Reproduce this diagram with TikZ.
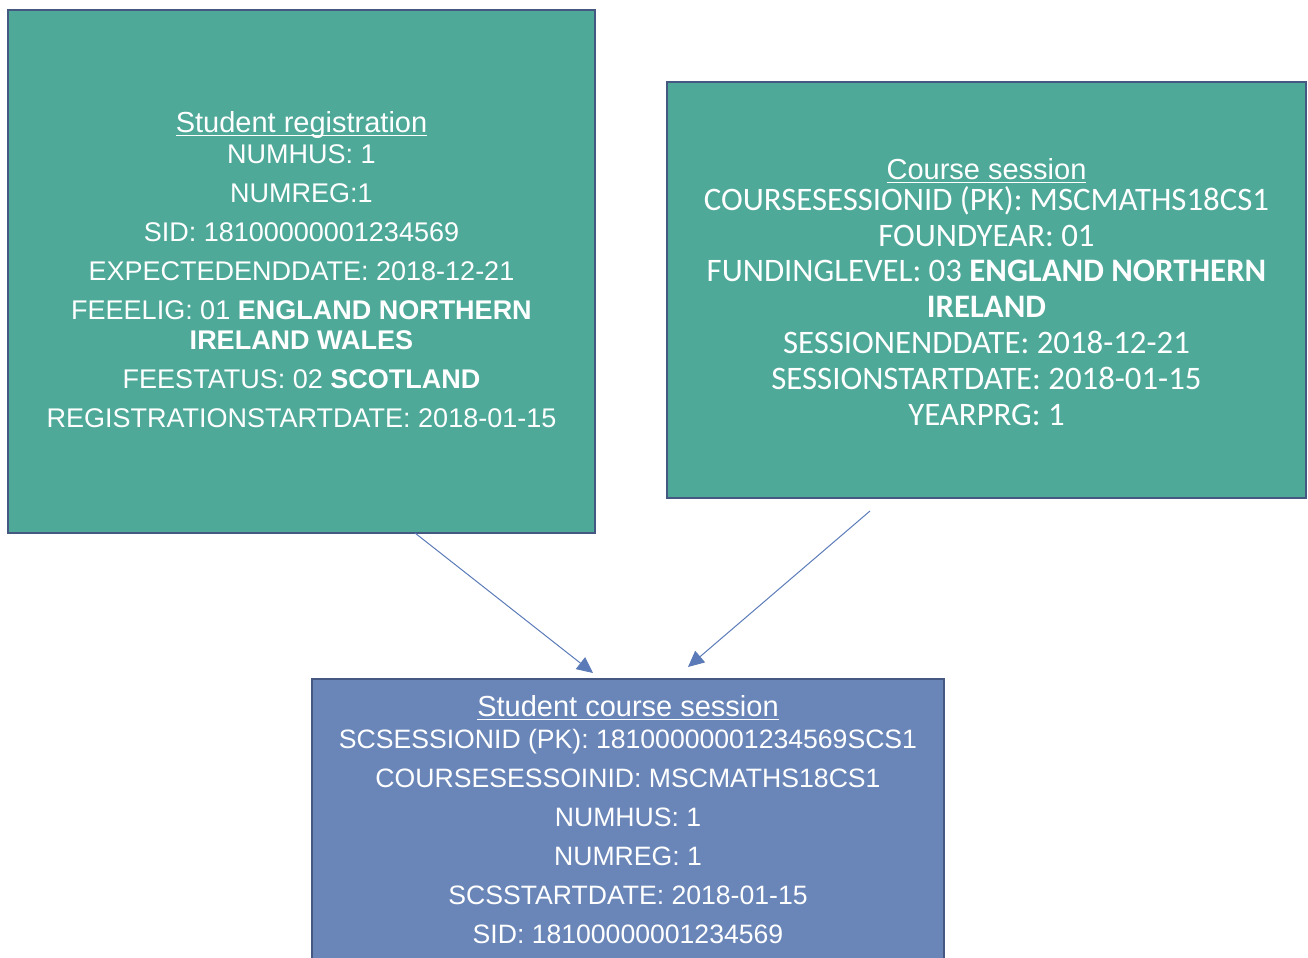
\documentclass[tikz,border=0pt]{standalone}
\usepackage{fontspec}
\setmainfont{Liberation Sans}
\newfontfamily\calibri{Carlito}
\usetikzlibrary{arrows.meta}
\definecolor{tealfill}{RGB}{78,169,153}
\definecolor{bluefill}{RGB}{106,134,184}
\definecolor{boxline}{RGB}{68,88,130}
\definecolor{linkline}{RGB}{90,122,184}
\newcommand{\boxtitle}[1]{{\fontsize{14.5}{15}\selectfont\underline{\vphantom{S}\smash{#1}}}}

\begin{document}
\begin{tikzpicture}[x=0.5pt,y=-0.5pt,
  entbox/.style={draw=boxline,line width=1pt,text=white,align=center,inner sep=0pt},
  link/.style={draw=linkline,line width=0.5pt,-{Triangle[length=8pt,width=7.5pt]}}]
\useasboundingbox (0,0) rectangle (1308,958);
% student registration
\node[entbox,fill=tealfill,minimum width=293.5pt,minimum height=261.5pt,
  text depth=2pt,font=\fontsize{13.5}{15}\selectfont] (reg) at (301.5,271.5)
  {\boxtitle{Student registration}\\[0.5pt]
   NUMHUS: 1\\[4.5pt]
   NUMREG:1\\[4.5pt]
   SID: 18100000001234569\\[4.5pt]
   EXPECTEDENDDATE: 2018-12-21\\[4.5pt]
   FEEELIG: 01 \textbf{ENGLAND NORTHERN}\\
   \textbf{IRELAND WALES}\\[4.5pt]
   FEESTATUS: 02 \textbf{SCOTLAND}\\[4.5pt]
   REGISTRATIONSTARTDATE: 2018-01-15};
% course session
\node[entbox,fill=tealfill,minimum width=319.5pt,minimum height=208pt,
  font=\calibri\fontsize{16.4}{17.9}\selectfont] (cses) at (986.5,290)
  {\rule{0pt}{12.4pt}{\normalfont\boxtitle{Course session}}\\[-2.5pt]
   COURSESESSIONID (PK): MSCMATHS18CS1\\
   FOUNDYEAR: 01\\
   FUNDINGLEVEL: 03 \textbf{ENGLAND NORTHERN}\\
   \textbf{IRELAND}\\
   SESSIONENDDATE: 2018-12-21\\
   SESSIONSTARTDATE: 2018-01-15\\
   YEARPRG: 1};
% student course session
\node[entbox,fill=bluefill,anchor=north,minimum width=316pt,inner ysep=8.5pt,
  text depth=60pt,font=\fontsize{13.3}{15}\selectfont] (scses) at (628,678)
  {\boxtitle{Student course session}\\[1pt]
   SCSESSIONID (PK): 18100000001234569SCS1\\[4.5pt]
   COURSESESSOINID: MSCMATHS18CS1\\[4.5pt]
   NUMHUS: 1\\[4.5pt]
   NUMREG: 1\\[4.5pt]
   SCSSTARTDATE: 2018-01-15\\[4.5pt]
   SID: 18100000001234569};
% links
\coordinate (regout) at (415,533);
\coordinate (regin) at (593,673);
\coordinate (csesout) at (870,511);
\coordinate (csesin) at (688,667);
\draw[link] (regout) -- (regin);
\draw[link] (csesout) -- (csesin);
\end{tikzpicture}
\end{document}
